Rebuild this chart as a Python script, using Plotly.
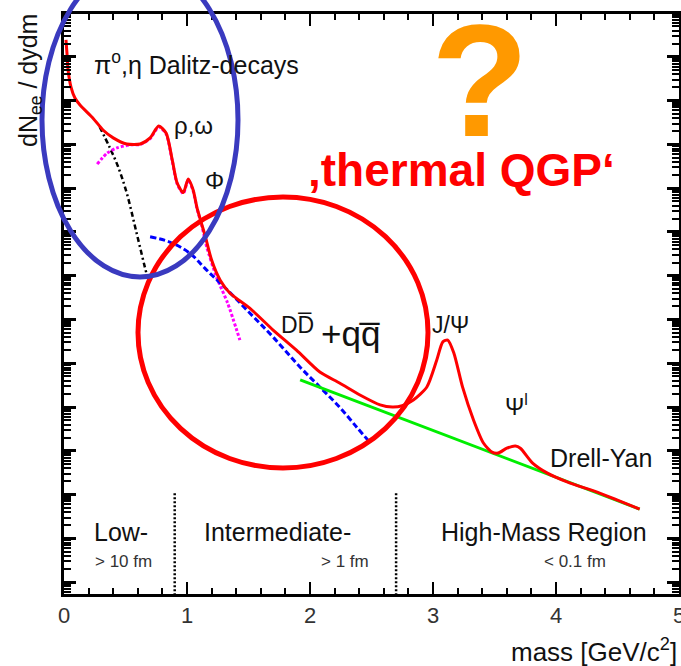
import plotly.graph_objects as go

# ---- data (x in GeV/c^2, y as log10 of dN/dydm, arbitrary units) ----
total_x = [0.016, 0.024, 0.033, 0.057, 0.089, 0.13, 0.236, 0.317, 0.40, 0.51, 0.62, 0.70, 0.77, 0.83,
           0.88, 0.92, 0.97, 1.01, 1.05, 1.08, 1.11, 1.15, 1.20, 1.27, 1.35, 1.51, 1.70, 1.89, 2.08,
           2.24, 2.41, 2.57, 2.67, 2.75, 2.84, 2.95, 3.03, 3.08, 3.12, 3.17, 3.24, 3.33, 3.41, 3.48,
           3.53, 3.60, 3.67, 3.71, 3.81, 3.93, 4.09, 4.36, 4.68]
total_logy = [12.39, 12.09, 11.70, 11.31, 11.06, 10.90, 10.60, 10.33, 10.15, 10.01, 10.01, 10.15, 10.42, 10.26,
              9.65, 9.12, 8.90, 9.21, 8.96, 8.57, 8.27, 7.89, 7.36, 6.90, 6.60, 6.26, 5.76, 5.30, 4.80,
              4.55, 4.27, 4.05, 4.00, 4.03, 4.16, 4.46, 5.07, 5.49, 5.53, 5.23, 4.46, 3.70, 3.18, 2.97,
              2.95, 3.06, 3.11, 3.06, 2.72, 2.49, 2.29, 2.03, 1.67]

charm_x = [0.70, 0.86, 1.02, 1.16, 1.33, 1.51, 1.70, 1.92, 2.08, 2.24, 2.38, 2.47]
charm_logy = [7.89, 7.77, 7.52, 7.13, 6.67, 6.15, 5.60, 4.91, 4.46, 4.00, 3.54, 3.25]

dalitz_x = [0.29, 0.37, 0.44, 0.51, 0.59, 0.67, 0.68]
dalitz_logy = [10.40, 9.94, 9.49, 8.89, 7.98, 7.06, 6.97]

vector_x = [0.27, 0.35, 0.43, 0.54, 0.62, 0.70, 0.77, 0.83, 0.88, 0.92, 0.97, 1.01, 1.05, 1.08,
            1.12, 1.16, 1.24, 1.33, 1.43]
vector_logy = [9.55, 9.80, 9.92, 9.99, 10.00, 10.13, 10.40, 10.24, 9.62, 9.10, 8.88, 9.19, 8.94, 8.55,
               8.15, 7.66, 6.97, 6.38, 5.53]

dy_x = [1.92, 2.5, 3.0, 3.5, 4.0, 4.5, 4.68]
dy_logy = [4.62, 4.00, 3.46, 2.93, 2.40, 1.86, 1.67]

region_bounds = [0.9, 2.7]
region_line_logy = [-0.3, 2.08]

x_ticks = [0, 1, 2, 3, 4, 5]


def ylin(v):
    return [None if a is None else 10 ** a for a in v]


def P(px, py):
    # pixel -> paper coordinates (plot area 64..679 x 14..594)
    return (px - 64) / 615.0, (594 - py) / 580.0


FONT = "Arial, Liberation Sans, sans-serif"

fig = go.Figure()

# region separators
vx, vy = [], []
for b in region_bounds:
    vx += [b, b, None]
    vy += [region_line_logy[0], region_line_logy[1], None]
fig.add_trace(go.Scatter(x=vx, y=ylin(vy), mode="lines",
                         line=dict(color="black", width=2.5, dash="2px,2px"), hoverinfo="skip"))

fig.add_trace(go.Scatter(x=dalitz_x, y=ylin(dalitz_logy), mode="lines",
                         line=dict(color="black", width=2.5, dash="5px,3px,2px,3px", shape="spline")))
fig.add_trace(go.Scatter(x=vector_x, y=ylin(vector_logy), mode="lines",
                         line=dict(color="#ff00ff", width=3, dash="3px,2px", shape="spline", smoothing=0.7)))
fig.add_trace(go.Scatter(x=charm_x, y=ylin(charm_logy), mode="lines",
                         line=dict(color="#0000ff", width=3, dash="6px,3px", shape="spline")))
fig.add_trace(go.Scatter(x=dy_x, y=ylin(dy_logy), mode="lines",
                         line=dict(color="#00ee00", width=3)))
fig.add_trace(go.Scatter(x=total_x, y=ylin(total_logy), mode="lines",
                         line=dict(color="#ff0000", width=3, shape="spline", smoothing=0.7)))

# circles / ellipses
x0, y0 = P(138, 468)
x1, y1 = P(428, 197)
fig.add_shape(type="circle", xref="paper", yref="paper", x0=x0, y0=y0, x1=x1, y1=y1,
              line=dict(color="#ff0000", width=5))
x0, y0 = P(42, 277)
x1, y1 = P(238, -37)
fig.add_shape(type="circle", xref="paper", yref="paper", x0=x0, y0=y0, x1=x1, y1=y1,
              line=dict(color="#3a3abf", width=5))


def txt(s, px, py, size=24, color="#111111", bold=False, xanchor="center", angle=0):
    x, y = P(px, py)
    fig.add_annotation(x=x, y=y, xref="paper", yref="paper", text=("<b>%s</b>" % s) if bold else s,
                       showarrow=False, xanchor=xanchor, yanchor="middle", textangle=angle,
                       font=dict(family=FONT, size=size, color=color))


txt("π<sup>o</sup>,η Dalitz-decays", 196, 63, size=25)
txt("ρ,ω", 193, 125)
txt("Φ", 214, 180)
txt("DD\u0305", 297, 325, size=23)
txt("+qq\u0305", 350, 333, size=35)
txt("J/Ψ", 450, 325, size=23)
txt("Ψ<sup>l</sup>", 516, 405, size=23)
txt("Drell-Yan", 601, 458, size=25)
txt("Low-", 121, 532, size=25)
txt("&gt; 10 fm", 123, 561, size=17, color="#333333")
txt("Intermediate-", 277, 532, size=25)
txt("&gt; 1 fm", 345, 561, size=17, color="#333333")
txt("High-Mass Region", 544, 532, size=25)
txt("&lt; 0.1 fm", 575, 561, size=17, color="#333333")
txt("?", 480, 80, size=160, color="#ff9900", bold=True)
txt("\u201athermal QGP\u2018", 462, 170, size=46, color="#ff0000", bold=True)
txt("mass [GeV/c<sup>2</sup>]", 679, 650, size=26, xanchor="right")
txt("dN<sub>ee</sub> / dydm", 30, 81, size=25, angle=-90)

fig.update_layout(
    width=681, height=666, autosize=False,
    margin=dict(l=64, r=2, t=14, b=72),
    paper_bgcolor="white", plot_bgcolor="white",
    showlegend=False,
    xaxis=dict(range=[0, 5], tickvals=x_ticks, ticks="inside", ticklen=12, tickwidth=2,
               tickcolor="black", showline=True, linewidth=3, linecolor="black", mirror="ticks",
               showgrid=False, zeroline=False, automargin=False, ticklabeloverflow="allow",
               tickfont=dict(family=FONT, size=22, color="#333333"),
               minor=dict(dtick=0.2, ticks="inside", ticklen=6, tickwidth=2, tickcolor="black",
                          showgrid=False)),
    yaxis=dict(type="log", range=[-0.27, 12.98], dtick=1, ticks="inside", ticklen=12, tickwidth=2.5,
               tickcolor="black", showline=True, linewidth=3, linecolor="black", mirror="ticks",
               showgrid=False, zeroline=False, showticklabels=False, automargin=False,
               minor=dict(dtick="D1", ticks="inside", ticklen=7, tickwidth=1.5, tickcolor="black",
                          showgrid=False)),
)

fig.write_html("out.html")
